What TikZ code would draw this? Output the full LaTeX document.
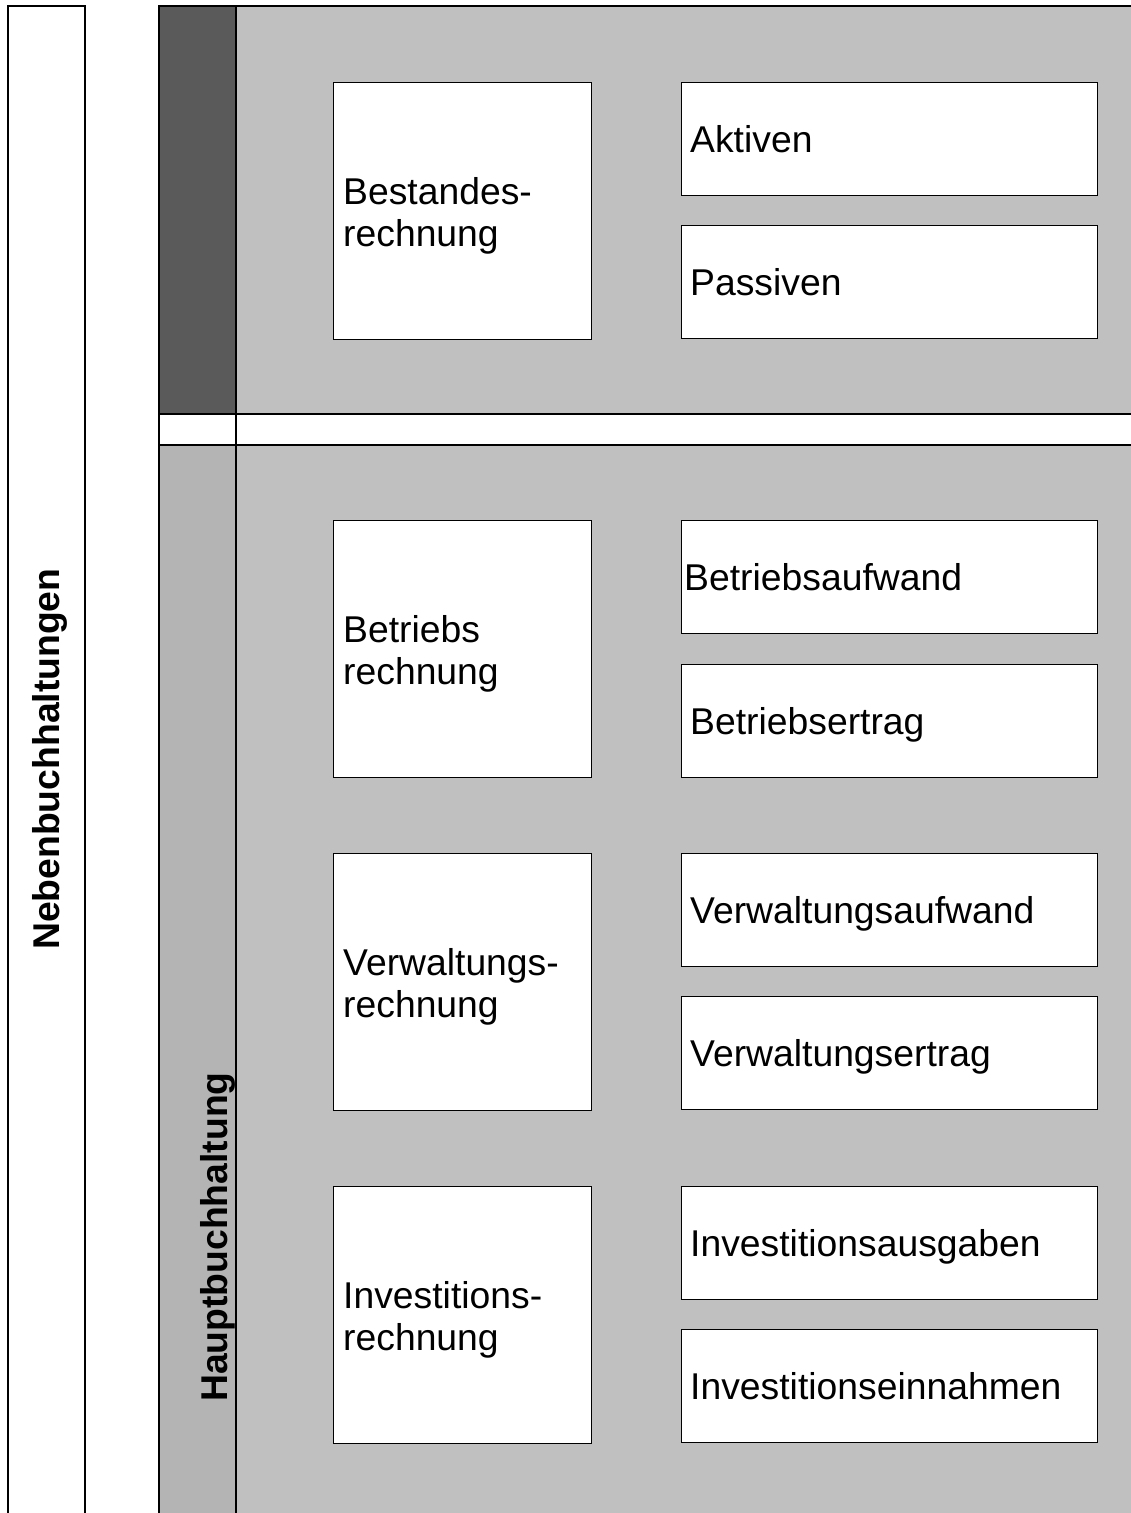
\documentclass[tikz,border=0pt]{standalone}
\usepackage{fontspec}
\setmainfont{Liberation Sans}
\begin{document}
\begin{tikzpicture}[x=1pt,y=-1pt,
  outer/.style={line width=1.6pt},
  box/.style={draw=black,fill=white,line width=1.3pt,inner sep=0pt},
  lbl/.style={inner sep=0pt,font=\fontsize{37.3}{42.5}\selectfont,align=left},
  vlbl/.style={inner sep=0pt,font=\fontsize{37.3}{42.5}\selectfont\bfseries,rotate=90,anchor=base west}]
\definecolor{panel}{HTML}{C0C0C0}
\definecolor{darkstrip}{HTML}{5A5A5A}
\definecolor{lightstrip}{HTML}{B4B4B4}
\useasboundingbox (0,0) rectangle (1131,1513);
% left outer frame
\draw[outer] (8,1513) -- (8,6) -- (85,6) -- (85,1513);
% top panel
\fill[panel] (159,6) rectangle (1131,414);
\fill[darkstrip] (159,6) rectangle (236,414);
% bottom panel
\fill[panel] (159,445) rectangle (1131,1513);
\fill[lightstrip] (159,445) rectangle (236,1513);
\draw[outer] (1131,6) -- (159,6) -- (159,1513);
\draw[outer] (236,6) -- (236,1513);
\draw[outer] (159,414) -- (1131,414);
\draw[outer] (159,445) -- (1131,445);
% vertical labels
\node[vlbl] (neben) at (59,950) {Nebenbuchhaltungen};
\node[vlbl] (haupt) at (227,1402) {Hauptbuchhaltung};
% boxes: left column
\foreach \n/\t in {bes/82,bet/520,ver/853,inv/1186}{
  \node[box,minimum width=258pt,minimum height=257pt,anchor=north west] (\n) at (333,\t) {};
}
% boxes: right column
\foreach \n/\t in {akt/82,pas/225,ba/520,be/664,va/853,ve/996,ia/1186,ie/1329}{
  \node[box,minimum width=416pt,minimum height=113pt,anchor=north west] (\n) at (681,\t) {};
}
% labels left column
\node[lbl,anchor=west] (tbes) at ([xshift=10pt,yshift=-4.5pt]bes.west) {Bestandes-\\rechnung};
\node[lbl,anchor=west] (tbet) at ([xshift=10pt,yshift=-4.5pt]bet.west) {Betriebs\\rechnung};
\node[lbl,anchor=west] (tver) at ([xshift=10pt,yshift=-4.5pt]ver.west) {Verwaltungs-\\rechnung};
\node[lbl,anchor=west] (tinv) at ([xshift=10pt,yshift=-4.5pt]inv.west) {Investitions-\\rechnung};
% labels right column
\node[lbl,anchor=base west] (takt) at ([xshift=9pt,yshift=-13pt]akt.west) {Aktiven};
\node[lbl,anchor=base west] (tpas) at ([xshift=9pt,yshift=-13pt]pas.west) {Passiven};
\node[lbl,anchor=base west] (tba) at ([xshift=3pt,yshift=-13pt]ba.west) {Betriebsaufwand};
\node[lbl,anchor=base west] (tbe) at ([xshift=9pt,yshift=-13pt]be.west) {Betriebsertrag};
\node[lbl,anchor=base west] (tva) at ([xshift=9pt,yshift=-13pt]va.west) {Verwaltungsaufwand};
\node[lbl,anchor=base west] (tve) at ([xshift=9pt,yshift=-13pt]ve.west) {Verwaltungsertrag};
\node[lbl,anchor=base west] (tia) at ([xshift=9pt,yshift=-13pt]ia.west) {Investitionsausgaben};
\node[lbl,anchor=base west] (tie) at ([xshift=9pt,yshift=-13pt]ie.west) {Investitionseinnahmen};
\end{tikzpicture}
\end{document}
